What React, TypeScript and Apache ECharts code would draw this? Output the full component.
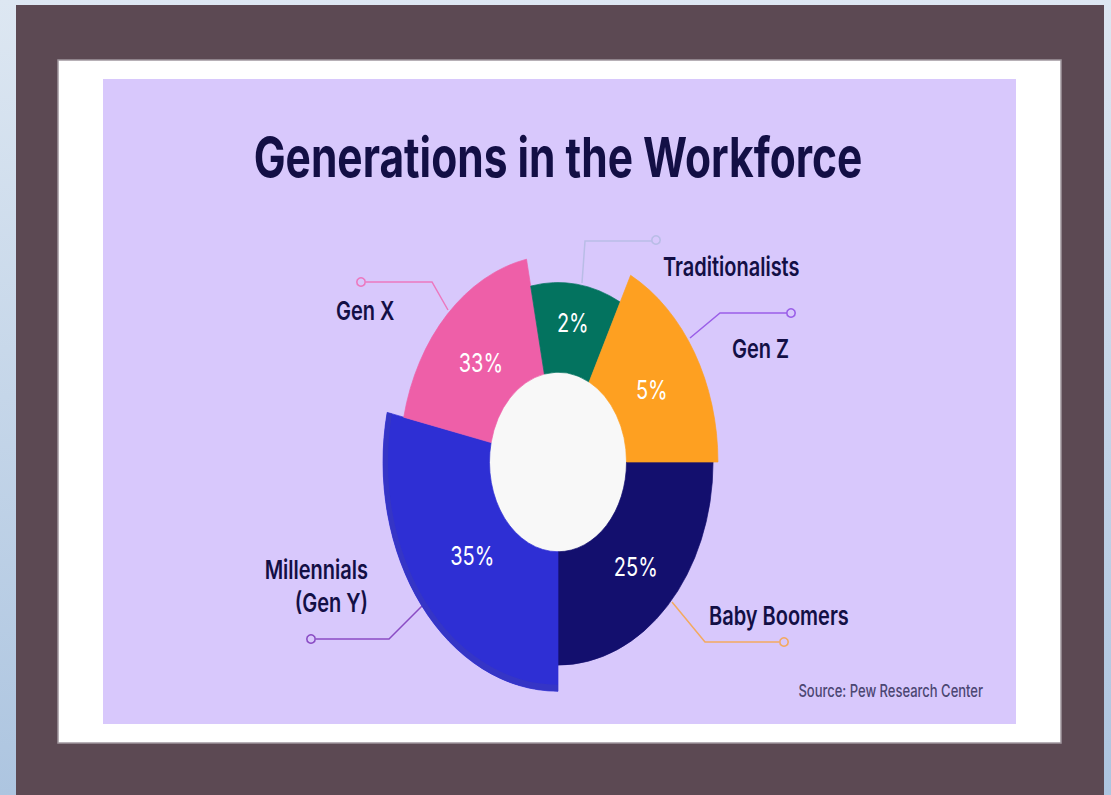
import React, { useEffect, useRef } from 'react';
import * as echarts from 'echarts';

// ---- data ----
const generations = ['Baby Boomers', 'Millennials', 'Gen X', 'Traditionalists', 'Gen Z'];
const workforceShare = [25, 35, 33, 2, 5];
// angular width each slice takes in the drawing (degrees, clockwise from 3 o'clock)
const drawnSweepDeg = [90, 102.5, 66, 38.5, 63];
// outer reach of each slice relative to the longest one
const outerRadiusRatio = [0.886, 1, 0.903, 0.783, 0.914];
const titleText = 'Generations in the Workforce';
const sourceText = 'Source: Pew Research Center';

// ---- styles / layout ----
const sliceColors = ['#130f6e', '#2e2fd4', '#ee5fa8', '#03735f', '#fea021'];
const CX = 558;
const CY = 462;
const R_MAX = 175;
const R_IN = 68.5;
const K = 1.31; // vertical stretch of the infographic
const LABEL_R = 110;
const INK = '#130f45';
const FONT = 'Inter, "Noto Sans", sans-serif';

export default function App() {
  const ref = useRef<HTMLDivElement>(null);

  useEffect(() => {
    const chart = echarts.init(ref.current!, null, { renderer: 'svg' });

    const data = generations.map((g, i) => ({
      name: g,
      value: [drawnSweepDeg[i], workforceShare[i], outerRadiusRatio[i]],
    }));

    const nameText = (text: string, x: number, y: number, align: string = 'left') => ({
      type: 'text',
      x,
      y,
      scaleY: K,
      style: { text, fill: INK, fontSize: 20, fontWeight: 600, fontFamily: FONT, align, verticalAlign: 'middle' },
    });
    const leader = (points: number[][], color: string, circle: number[]) => [
      { type: 'polyline', shape: { points }, style: { stroke: color, lineWidth: 1.5, fill: null } },
      { type: 'circle', shape: { cx: circle[0], cy: circle[1], r: 4.2 }, style: { stroke: color, lineWidth: 1.6, fill: '#d8c8fc' } },
    ];

    chart.setOption({
      animation: false,
      graphic: {
        elements: [
          {
            type: 'rect',
            shape: { x: 0, y: 0, width: 1111, height: 795 },
            style: {
              fill: {
                type: 'linear', x: 0, y: 0, x2: 0, y2: 1,
                colorStops: [{ offset: 0, color: '#dde7f2' }, { offset: 1, color: '#adc5e0' }],
              },
            },
          },
          { type: 'rect', shape: { x: 16, y: 5, width: 1088, height: 790 }, style: { fill: '#5c4953' } },
          { type: 'rect', shape: { x: 58, y: 60, width: 1003, height: 683 }, style: { fill: '#ffffff', stroke: '#a0979e', lineWidth: 1.5 } },
          { type: 'rect', shape: { x: 103, y: 79, width: 913, height: 645 }, style: { fill: '#d8c8fc' } },
          {
            type: 'text', x: 558, y: 157, scaleY: K,
            style: { text: titleText, fill: INK, fontSize: 42.5, fontWeight: 700, fontFamily: FONT, align: 'center', verticalAlign: 'middle' },
          },
          { type: 'ellipse', shape: { cx: CX, cy: CY, rx: R_IN + 1, ry: (R_IN + 1) * K }, style: { fill: '#f8f8f8' } },
          ...leader([[582, 283], [585, 241], [652, 241]], '#b9bde6', [656, 240]),
          ...leader([[690, 338], [720, 313], [787, 313]], '#9a5ee8', [791, 313]),
          ...leader([[448, 310], [432, 282], [366, 282]], '#ec78bf', [361, 282]),
          ...leader([[422, 606], [389, 639], [316, 639]], '#8a4cc4', [311, 639]),
          ...leader([[672, 602], [705, 642], [779, 642]], '#f3a95f', [784, 642]),
          nameText(generations[3], 663, 266),
          nameText(generations[4], 732, 348),
          nameText(generations[2], 336, 310),
          nameText(generations[1], 368, 569, 'right'),
          nameText('(Gen Y)', 368, 602, 'right'),
          nameText(generations[0], 709, 615),
          {
            type: 'text', x: 983, y: 691, scaleY: K,
            style: { text: sourceText, fill: '#4b4672', fontSize: 13, fontWeight: 500, fontFamily: FONT, align: 'right', verticalAlign: 'middle' },
          },
        ],
      },
      series: [
        {
          type: 'custom',
          coordinateSystem: 'none',
          data,
          renderItem: (params: any, api: any) => {
            const i = params.dataIndex;
            const sweep = api.value(0);
            const share = api.value(1);
            const ratio = api.value(2);
            let start = 0;
            for (let j = 0; j < i; j++) start += drawnSweepDeg[j];
            const a0 = (start * Math.PI) / 180;
            const a1 = ((start + sweep) * Math.PI) / 180;
            const r = R_MAX * ratio;
            const mid = (a0 + a1) / 2;
            const color = sliceColors[i];
            const children: any[] = [
              {
                type: 'sector',
                x: CX,
                y: CY,
                scaleY: K,
                shape: { cx: 0, cy: 0, r0: R_IN, r, startAngle: a0, endAngle: a1, clockwise: true },
                style: { fill: color, stroke: color, lineWidth: 0.6 },
              },
            ];
            if (i === 1) {
              children.push({
                type: 'sector',
                x: CX,
                y: CY,
                scaleY: K,
                shape: { cx: 0, cy: 0, r0: r - 5, r, startAngle: a0, endAngle: a1, clockwise: true },
                style: { fill: '#3535c6' },
              });
            }
            children.push({
              type: 'text',
              x: CX + LABEL_R * Math.cos(mid),
              y: CY + K * LABEL_R * Math.sin(mid) + 3,
              scaleY: K,
              style: {
                text: share + '%',
                fill: '#ffffff',
                fontSize: 20,
                fontWeight: 400,
                fontFamily: FONT,
                align: 'center',
                verticalAlign: 'middle',
              },
            });
            return { type: 'group', children };
          },
        },
      ],
    });

    return () => chart.dispose();
  }, []);

  return <div ref={ref} style={{ position: 'absolute', left: 0, top: 0, width: 1111, height: 795 }} />;
}
